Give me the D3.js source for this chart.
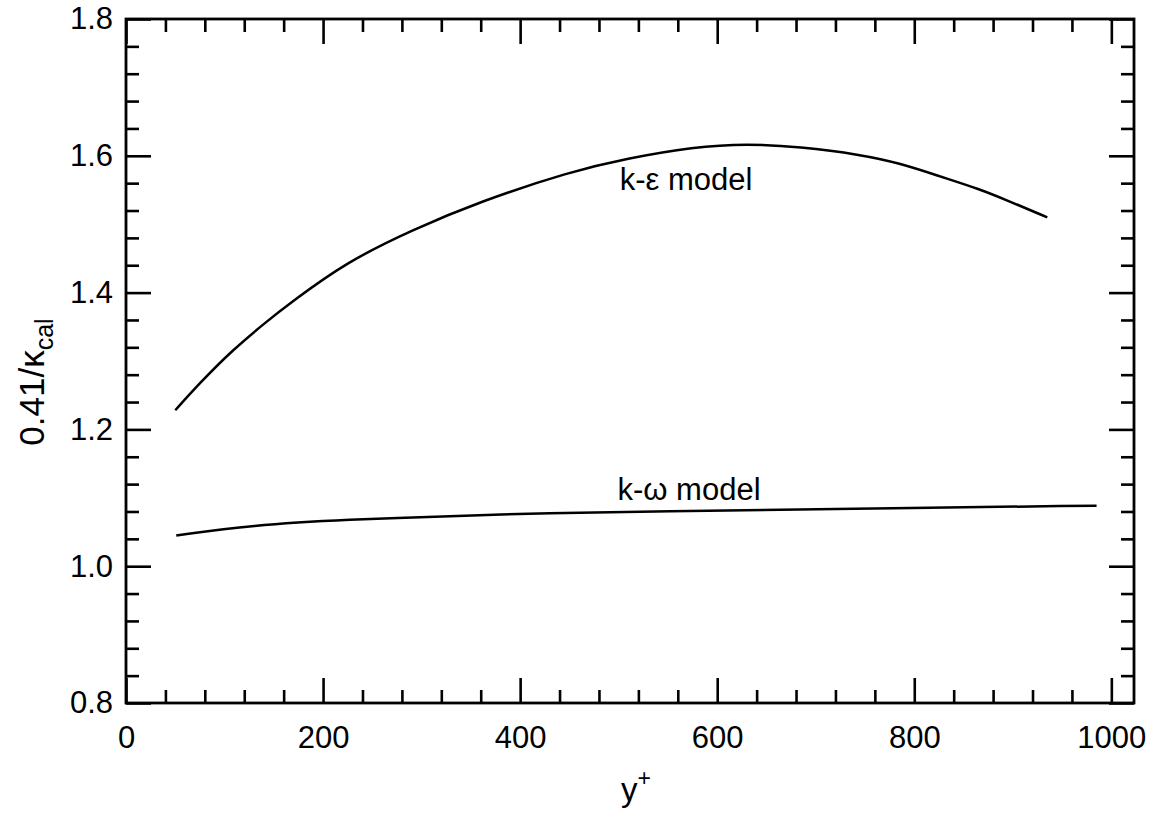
<!DOCTYPE html>
<html>
<head>
<meta charset="utf-8">
<script src="https://cdn.jsdelivr.net/npm/d3@7"></script>
<style>
  body { margin: 0; background: #fff; }
  svg { font-family: "Liberation Sans", Arial, sans-serif; }
</style>
</head>
<body>
<svg id="chart" width="1155" height="827"></svg>
<script>
// y+ positions and 0.41/kappa values
const keX = [50, 75, 108, 143, 166, 224, 291, 359, 451, 508, 576, 630, 684, 745, 786, 826, 867, 894, 935];
const keY = [1.228, 1.268, 1.316, 1.358, 1.384, 1.445, 1.492, 1.533, 1.577, 1.596, 1.613, 1.618, 1.613, 1.602, 1.589, 1.570, 1.551, 1.535, 1.510];
const kwX = [51, 126, 227, 329, 430, 532, 758, 985];
const kwY = [1.045, 1.060, 1.0686, 1.073, 1.078, 1.080, 1.0846, 1.0885];

const xMajor = [0, 200, 400, 600, 800, 1000];
const xMinor = d3.range(40, 1001, 40).filter(v => v % 200 !== 0);
const yMajor = [0.8, 1.0, 1.2, 1.4, 1.6, 1.8];
const yMinor = d3.range(0.84, 1.79, 0.04).filter(v => Math.abs(v * 5 - Math.round(v * 5)) > 1e-6);

const svg = d3.select('#chart');
const plot = { left: 126, right: 1134, top: 19, bottom: 703 };

const x = d3.scaleLinear().domain([0, 1023]).range([plot.left, plot.right]);
const y = d3.scaleLinear().domain([0.8, 1.8]).range([plot.bottom, plot.top]);

const major = 25, minor = 13, fs = 31;

function styleAxis(g) {
    g.select('.domain').remove();
    g.selectAll('line').attr('stroke', '#000').attr('stroke-width', 2.6);
    g.selectAll('text').attr('fill', '#000').style('font-size', fs + 'px');
}

// bottom axis
svg.append('g').attr('transform', `translate(0,${plot.bottom})`)
    .call(d3.axisBottom(x).tickValues(xMajor).tickSize(-major).tickPadding(23).tickFormat(d3.format('d')))
    .call(styleAxis);
svg.append('g').attr('transform', `translate(0,${plot.bottom})`)
    .call(d3.axisBottom(x).tickValues(xMinor).tickSize(-minor).tickFormat(''))
    .call(styleAxis);

// top axis
svg.append('g').attr('transform', `translate(0,${plot.top})`)
    .call(d3.axisTop(x).tickValues(xMajor).tickSize(-major).tickFormat(''))
    .call(styleAxis);
svg.append('g').attr('transform', `translate(0,${plot.top})`)
    .call(d3.axisTop(x).tickValues(xMinor).tickSize(-minor).tickFormat(''))
    .call(styleAxis);

// left axis
svg.append('g').attr('transform', `translate(${plot.left},0)`)
    .call(d3.axisLeft(y).tickValues(yMajor).tickSize(-major).tickPadding(13).tickFormat(d3.format('.1f')))
    .call(styleAxis);
svg.append('g').attr('transform', `translate(${plot.left},0)`)
    .call(d3.axisLeft(y).tickValues(yMinor).tickSize(-minor).tickFormat(''))
    .call(styleAxis);

// right axis
svg.append('g').attr('transform', `translate(${plot.right},0)`)
    .call(d3.axisRight(y).tickValues(yMajor).tickSize(-major).tickFormat(''))
    .call(styleAxis);
svg.append('g').attr('transform', `translate(${plot.right},0)`)
    .call(d3.axisRight(y).tickValues(yMinor).tickSize(-minor).tickFormat(''))
    .call(styleAxis);

// frame
svg.append('rect')
    .attr('x', plot.left).attr('y', plot.top)
    .attr('width', plot.right - plot.left).attr('height', plot.bottom - plot.top)
    .attr('fill', 'none').attr('stroke', '#000').attr('stroke-width', 2.8);

// curves
const line = d3.line().x(d => x(d[0])).y(d => y(d[1])).curve(d3.curveBasis);

svg.append('path')
    .datum(d3.zip(keX, keY))
    .attr('d', line)
    .attr('fill', 'none').attr('stroke', '#000').attr('stroke-width', 2.5);

svg.append('path')
    .datum(d3.zip(kwX, kwY))
    .attr('d', line)
    .attr('fill', 'none').attr('stroke', '#000').attr('stroke-width', 2.5);

// curve labels
svg.append('text').attr('x', 686).attr('y', 190)
    .attr('text-anchor', 'middle').style('font-size', '31px')
    .text('k-ε model');
svg.append('text').attr('x', 689).attr('y', 500)
    .attr('text-anchor', 'middle').style('font-size', '31px')
    .text('k-ω model');

// axis titles
const xt = svg.append('text').attr('x', 636).attr('y', 801)
    .attr('text-anchor', 'middle').style('font-size', '33px');
xt.append('tspan').text('y');
xt.append('tspan').attr('dy', -15).style('font-size', '23px').text('+');

const yt = svg.append('text')
    .attr('transform', 'translate(44,382) rotate(-90)')
    .attr('text-anchor', 'middle').style('font-size', '35px');
yt.append('tspan').text('0.41/κ');
yt.append('tspan').attr('dy', 9).style('font-size', '25px').text('cal');
</script>
</body>
</html>
